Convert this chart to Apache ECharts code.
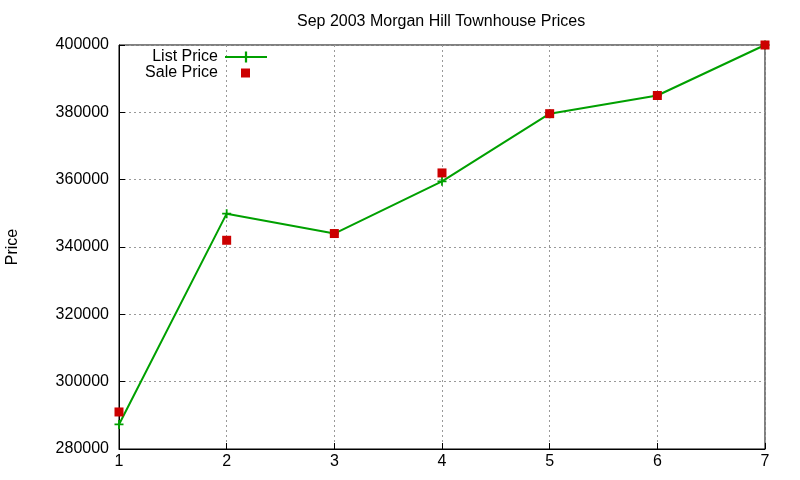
<!DOCTYPE html>
<html>
<head>
<meta charset="utf-8">
<script src="https://cdn.jsdelivr.net/npm/echarts@6/dist/echarts.min.js"></script>
<style>
  html, body { margin: 0; padding: 0; background: #fff; }
  #chart { width: 800px; height: 480px; }
</style>
</head>
<body>
<div id="chart"></div>
<script>
// values
const months = [1, 2, 3, 4, 5, 6, 7]
const listPrice = [287300, 349900, 344000, 359500, 379600, 385000, 400000]
const salePrice = [291000, 342000, 344000, 362000, 379600, 385000, 400000]

const font = 'Liberation Sans, Arial, sans-serif'
const plusIcon = 'path://M4,0h2v4h4v2h-4v4h-2v-4h-4v-2h4z'

const chart = echarts.init(document.getElementById('chart'))

const option = {
  backgroundColor: '#fff',
  animation: false,
  title: {
    text: 'Sep 2003 Morgan Hill Townhouse Prices',
    left: 292,
    top: 9,
    textStyle: { fontFamily: font, fontSize: 16, fontWeight: 'normal', color: '#000' }
  },
  legend: [
    {
      data: ['List Price'],
      right: 527,
      top: 44,
      align: 'right',
      itemWidth: 42,
      itemHeight: 14,
      textStyle: { fontFamily: font, fontSize: 16, color: '#000', padding: [0, 2, 0, 0] }
    },
    {
      data: [{ name: 'Sale Price', icon: 'rect' }],
      right: 545,
      top: 60,
      align: 'right',
      itemWidth: 9,
      itemHeight: 9,
      textStyle: { fontFamily: font, fontSize: 16, color: '#000', padding: [0, 18, 0, 0] }
    }
  ],
  grid: {
    left: 119,
    right: 35,
    top: 45,
    bottom: 31,
    outerBoundsMode: 'none',
    show: true,
    borderColor: '#000',
    borderWidth: 1
  },
  xAxis: {
    type: 'value',
    min: 1,
    max: 7,
    interval: 1,
    axisLine: { lineStyle: { color: '#000' } },
    axisTick: { inside: true, length: 6, lineStyle: { color: '#000' } },
    axisLabel: { fontFamily: font, fontSize: 16, color: '#000', margin: 5 },
    splitLine: { lineStyle: { color: '#999', type: [2, 3] } }
  },
  yAxis: {
    type: 'value',
    min: 280000,
    max: 400000,
    interval: 20000,
    name: 'Price',
    nameLocation: 'middle',
    nameGap: 98,
    nameTextStyle: { fontFamily: font, fontSize: 16, color: '#000' },
    axisLine: { show: true, lineStyle: { color: '#000' } },
    axisTick: { show: true, inside: true, length: 6, lineStyle: { color: '#000' } },
    axisLabel: {
      fontFamily: font, fontSize: 16, color: '#000', margin: 10,
      formatter: v => String(v)
    },
    splitLine: { lineStyle: { color: '#999', type: [2, 3] } }
  },
  series: [
    {
      name: 'List Price',
      type: 'line',
      data: months.map((m, i) => [m, listPrice[i]]),
      symbol: plusIcon,
      symbolSize: 9,
      showAllSymbol: true,
      lineStyle: { color: '#00a000', width: 2 },
      itemStyle: { color: '#00a000' },
      z: 2
    },
    {
      name: 'Sale Price',
      type: 'scatter',
      data: months.map((m, i) => [m, salePrice[i]]),
      symbol: 'rect',
      symbolSize: 9,
      itemStyle: { color: '#cc0000', opacity: 1 },
      z: 3
    }
  ]
}

chart.setOption(option)
</script>
</body>
</html>
